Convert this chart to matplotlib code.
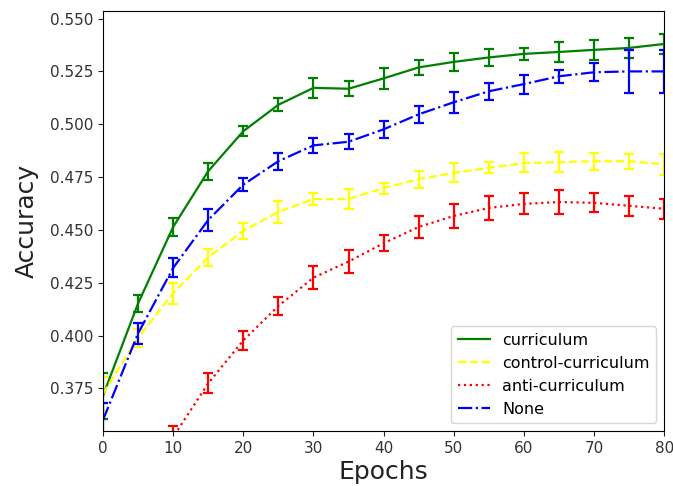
import numpy as np
import matplotlib
matplotlib.use("Agg")
import matplotlib.pyplot as plt

epochs = [0, 5, 10, 15, 20, 25, 30, 35, 40, 45, 50, 55, 60, 65, 70, 75, 80]

curriculum = [0.3715, 0.4152, 0.4514, 0.4778, 0.4967, 0.5092, 0.5172, 0.5168, 0.5217,
              0.5269, 0.5295, 0.5316, 0.5333, 0.5342, 0.5352, 0.5361, 0.5380]
curriculum_err = [0.011, 0.004, 0.0043, 0.004, 0.0024, 0.003, 0.0047, 0.0035, 0.005,
                  0.0035, 0.0043, 0.004, 0.003, 0.0047, 0.0047, 0.0047, 0.0047]

control = [0.3725, 0.3990, 0.4200, 0.4370, 0.4495, 0.4585, 0.4646, 0.4646, 0.4698,
           0.4740, 0.4770, 0.4793, 0.4817, 0.4820, 0.4825, 0.4825, 0.4810]
control_err = [0.008, 0.0043, 0.005, 0.004, 0.0038, 0.005, 0.003, 0.0047, 0.0026,
               0.004, 0.0045, 0.0026, 0.0045, 0.0047, 0.004, 0.0035, 0.005]

anti = [0.300, 0.330, 0.352, 0.3774, 0.3977, 0.4140, 0.4274, 0.4350, 0.4437,
        0.4514, 0.4566, 0.4604, 0.4623, 0.4632, 0.4628, 0.4614, 0.4600]
anti_err = [0.005, 0.005, 0.005, 0.0047, 0.0043, 0.0043, 0.0055, 0.0055, 0.0038,
            0.005, 0.0055, 0.0055, 0.005, 0.0055, 0.0045, 0.0047, 0.0047]

none = [0.3600, 0.4010, 0.4320, 0.4547, 0.4714, 0.4825, 0.4900, 0.4917, 0.4976,
        0.5047, 0.5104, 0.5156, 0.5190, 0.5227, 0.5246, 0.5250, 0.5250]
none_err = [0.008, 0.005, 0.0045, 0.005, 0.003, 0.004, 0.0035, 0.0035, 0.004,
            0.004, 0.005, 0.004, 0.0045, 0.003, 0.0043, 0.010, 0.010]

series = [
    ("curriculum", curriculum, curriculum_err, "green", "-"),
    ("control-curriculum", control, control_err, "yellow", "--"),
    ("anti-curriculum", anti, anti_err, "red", ":"),
    ("None", none, none_err, "blue", "-."),
]

fig = plt.figure(figsize=(6.73, 4.86), dpi=100)
ax = fig.add_axes([0.153, 0.113, 0.834, 0.864])

for name, vals, err, col, ls in series:
    ax.plot(epochs, vals, color=col, linestyle=ls, linewidth=1.6, label=name)
    ax.errorbar(epochs, vals, yerr=err, fmt="none", ecolor=col,
                elinewidth=1.6, capsize=3.5, capthick=1.6)

ax.set_xlim(0, 80)
ax.set_ylim(0.3548, 0.5535)
ax.set_xticks(np.arange(0, 81, 10))
ax.set_yticks(np.arange(0.375, 0.5501, 0.025))
ax.tick_params(labelsize=11, colors="#222222", labelcolor="#333333")
ax.set_xlabel("Epochs", fontsize=18, labelpad=3, color="#222222")
ax.set_ylabel("Accuracy", fontsize=18, labelpad=8, color="#222222")
ax.legend(loc="lower right", fontsize=11.5)

fig.savefig("out.png", dpi=100)
